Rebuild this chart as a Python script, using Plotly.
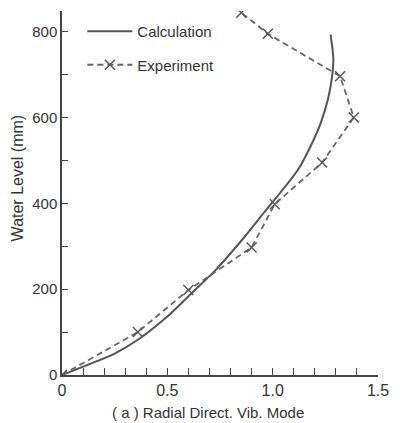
import plotly.graph_objects as go

# Calculation curve (solid)
calc_x = [0, 0.14, 0.25, 0.36, 0.50, 0.62, 0.73, 0.86, 0.97, 1.035, 1.12, 1.18, 1.228, 1.262, 1.28, 1.288, 1.275]
calc_y = [0, 27, 50, 82, 136, 193, 245, 318, 385, 424, 478, 533, 587, 642, 688, 735, 793]

# Experiment points (dashed with x markers)
exp_x = [0, 0.36, 0.60, 0.90, 1.01, 1.235, 1.385, 1.32, 0.977, 0.851]
exp_y = [0, 100, 198, 297, 398, 495, 600, 696, 795, 844]

x_tickvals = [0, 0.5, 1.0, 1.5]
x_ticktext = ["0", "0.5", "1.0", "1.5"]
y_tickvals = [0, 200, 400, 600, 800]
y_ticktext = ["0", "200", "400", "600", "800"]

x_title = "( a ) Radial Direct. Vib. Mode"
y_title = "Water Level (mm)"

W, H = 400, 423
L, R, T, B = 62, 12, 11, 48
PW, PH = W - L - R, H - T - B

xtick_font = dict(family="Liberation Sans Narrow, Arial Narrow, Liberation Sans, sans-serif", size=16, color="#333")
ytick_font = dict(family="Liberation Sans Narrow, Arial Narrow, Liberation Sans, sans-serif", size=15, color="#333")
legend_font = dict(family="Liberation Sans, Arial, sans-serif", size=15, color="#333")
title_font = dict(family="Liberation Sans, Arial, sans-serif", size=15, color="#333")
ytitle_font = dict(family="Liberation Sans, Arial, sans-serif", size=16, color="#333")

fig = go.Figure()
fig.add_trace(go.Scatter(
    x=calc_x, y=calc_y, mode="lines", name="Calculation",
    line=dict(color="#555", width=2, shape="spline", smoothing=0.8),
    legendgroup="a",
))
fig.add_trace(go.Scatter(
    x=exp_x, y=exp_y, mode="lines+markers", name="Experiment",
    line=dict(color="#666", width=1.8, dash="6px,4px"),
    marker=dict(symbol="x-thin-open", size=10, color="#555", line=dict(width=1.4, color="#555")),
    legendgroup="b",
))

fig.update_layout(
    width=W, height=H,
    margin=dict(l=L, r=R, t=T, b=B),
    paper_bgcolor="white", plot_bgcolor="white",
    showlegend=True,
    legend=dict(
        x=(83 - L) / PW, y=1 - (15 - T) / PH, xanchor="left", yanchor="top",
        font=legend_font, itemwidth=45, tracegroupgap=11,
        bgcolor="rgba(0,0,0,0)", borderwidth=0,
    ),
    xaxis=dict(
        range=[0, 1.5], showgrid=False, zeroline=False,
        showline=True, linecolor="#444", linewidth=1.5,
        ticks="inside", ticklen=7, tickwidth=1.2, tickcolor="#444",
        tickvals=x_tickvals, ticktext=x_ticktext, tickfont=xtick_font,
        minor=dict(dtick=0.1, ticks="inside", ticklen=7, tickwidth=1.2, tickcolor="#444", showgrid=False),
    ),
    yaxis=dict(
        range=[0, 848], showgrid=False, zeroline=False,
        showline=True, linecolor="#444", linewidth=1.5,
        ticks="inside", ticklen=6, tickwidth=1.2, tickcolor="#444",
        tickvals=y_tickvals, ticktext=y_ticktext, tickfont=ytick_font,
        minor=dict(dtick=100, ticks="inside", ticklen=6, tickwidth=1.2, tickcolor="#444", showgrid=False),
    ),
    annotations=[
        dict(
            text=y_title, textangle=-90, xref="paper", yref="paper",
            x=-(L - 17) / PW, y=1 - (178 - T) / PH, xanchor="center", yanchor="middle",
            showarrow=False, font=ytitle_font,
        ),
        dict(
            text=x_title, xref="paper", yref="paper",
            x=(213 - L) / PW, y=-(412 - (T + PH)) / PH, xanchor="center", yanchor="middle",
            showarrow=False, font=title_font,
        ),
    ],
)

fig.write_html(
    "out.html",
    config={"displayModeBar": False},
    post_script="document.body.style.margin='0';document.body.style.overflow='hidden';document.documentElement.style.overflow='hidden';",
)
